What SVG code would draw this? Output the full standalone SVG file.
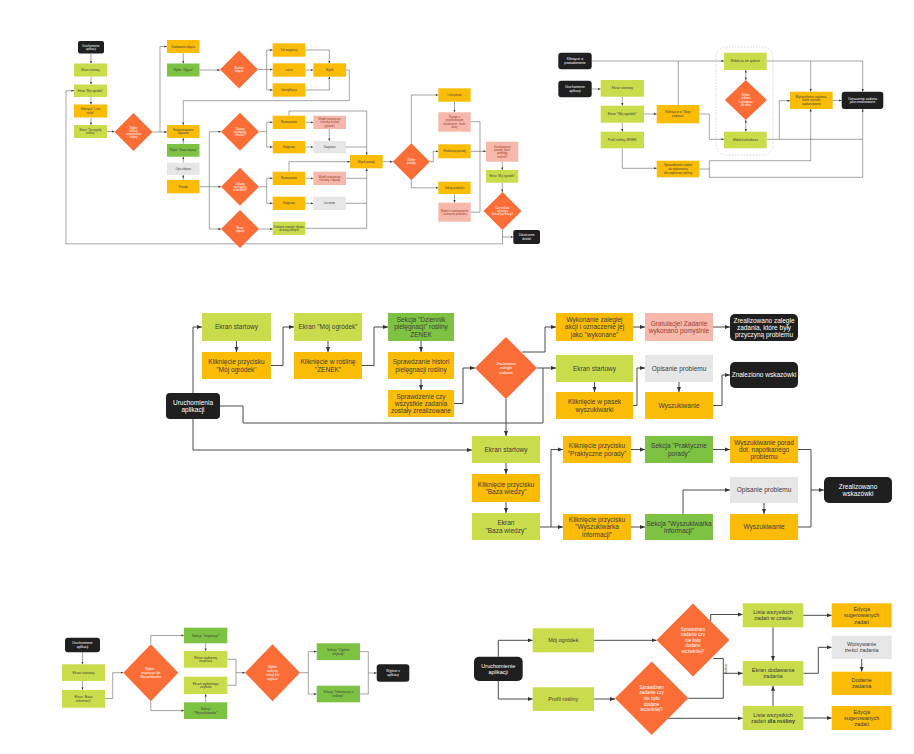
<svg xmlns="http://www.w3.org/2000/svg" width="914" height="754" viewBox="0 0 914 754">
<style>
.l{fill:#c9dc4b}.g{fill:#7dc243}.o{fill:#fbbc07}.p{fill:#f6b8aa}.y{fill:#e6e6e6}.k{fill:#1f1f1f}.d{fill:#fa6d37}
text{font-family:"Liberation Sans",Arial,sans-serif;text-anchor:middle;fill:#3d3d3d}
.w{fill:#fff}.r{fill:#9b3d2d}
.f65{font-size:6.5px}.f55{font-size:5.5px}.f48{font-size:4.6px}.f4{font-size:4px}.f33{font-size:3.3px}.f32{font-size:3.2px}.f28{font-size:2.8px}
.c,.cn,.t,.tn{fill:none;stroke:#4a4a4a}
.c{stroke-width:1;marker-end:url(#A)}.cn{stroke-width:1}
.t{stroke-width:.5;marker-end:url(#S)}.tn{stroke-width:.5}
.dash{fill:none;stroke:#bbb;stroke-width:.6;stroke-dasharray:1.5 1.5}
</style>
<defs>
<marker id="A" viewBox="0 0 10 10" refX="10" refY="5" markerWidth="5" markerHeight="5" markerUnits="userSpaceOnUse" orient="auto"><path d="M0,1L10,5L0,9z" fill="#333"/></marker>
<marker id="S" viewBox="0 0 10 10" refX="10" refY="5" markerWidth="2.6" markerHeight="2.6" markerUnits="userSpaceOnUse" orient="auto-start-reverse"><path d="M0,1L10,5L0,9z" fill="#333"/></marker>
</defs>
<rect width="914" height="754" fill="#fff"/>
<g id="connectors">
<!-- top-left -->
<path class="t" d="M91,53.5V63.5"/><path class="t" d="M91,76.5V84.5"/><path class="t" d="M91,97V104.5"/><path class="t" d="M91,117.5V125"/>
<path class="t" d="M107,131.5H114.5"/>
<path class="t" d="M152.5,132H160V46.5H167"/><path class="t" d="M160,132H167"/>
<path class="t" d="M183.3,53V63.5"/><path class="t" d="M199.5,70H220"/>
<path class="t" d="M258,69.5H266.7V50H272.7"/><path class="t" d="M266.7,69.5H272.7"/><path class="t" d="M266.7,69.5V90H272.7"/>
<path class="t" d="M305.3,50H329.3V63.3"/><path class="t" d="M305.3,70H313.3"/><path class="t" d="M305.3,90H329.3V76.7"/>
<path class="t" d="M346,70H349.3V100.7H183.3V125"/>
<path class="t" d="M183.3,144V138"/><path class="t" d="M183.3,162.7V156.7"/><path class="t" d="M183.3,180V175"/>
<path class="t" d="M199.5,186.7H221"/><path class="t" d="M209.3,186.7V131.7H221"/><path class="t" d="M209.3,186.7V229H221"/>
<path class="t" d="M259,131.7H266.7V122.3H272.7"/><path class="t" d="M266.7,131.7V147H272.7"/>
<path class="t" d="M305.3,122.3H313.3"/><path class="t" d="M305.3,147H313.3"/><path class="t" d="M329.3,129V141"/>
<path class="t" d="M289,115.7V111H366.7V155"/><path class="tn" d="M346,147H366.7"/>
<path class="t" d="M259,186.7H266.7V178.3H272.7"/><path class="t" d="M266.7,186.7V203.3H272.7"/>
<path class="t" d="M305.3,178.3H313.3"/><path class="t" d="M305.3,203.3H313.3"/>
<path class="t" d="M289,171.7V161.7H350"/>
<path class="tn" d="M346,178.3H366.7"/><path class="tn" d="M346,203.3H366.7"/><path class="t" d="M305.3,228.3H366.7V168.3"/>
<path class="t" d="M259,229H272.7"/>
<path class="t" d="M382.7,161.7H392.8"/>
<path class="t" d="M411.3,143.2V95H438.3"/><path class="t" d="M454.5,101.7V112.3"/>
<path class="t" d="M429.8,161.7H433.3V151.3H438.3"/><path class="t" d="M411.3,180.2V187.8H438.3"/>
<path class="t" d="M454.5,194V202.7"/>
<path class="tn" d="M470.7,121.7H480V212.2H470.7"/><path class="t" d="M470.7,151.3H486"/>
<path class="t" d="M502.3,161.7V170"/><path class="t" d="M502.3,182.7V192"/>
<path class="t" d="M502.5,230V243.8H66V90.7H74"/><path class="t" d="M502.5,237H513.3"/>
<!-- top-right -->
<path class="t" d="M591.7,61H724"/><path class="t" d="M591.7,89H600.7"/>
<path class="t" d="M622.3,96.7V105.7"/><path class="t" d="M622.3,122.7V131.7"/>
<path class="t" d="M644,114H656.7"/><path class="tn" d="M678.3,105V61"/>
<path class="t" d="M699.3,114H709.3V139.3H724"/>
<path class="t" d="M622.3,148.3V168.3H656.7"/>
<path class="t" d="M699.3,169H709.3V160.7H810.7V109"/>
<path class="t" d="M709.3,169V177.3H862.7V109"/>
<path class="t" d="M745.8,70V80" style="marker-start:url(#S)"/><path class="t" d="M745.8,120V131.7" style="marker-start:url(#S)"/>
<path class="t" d="M766.7,61H862.7V91.7"/><path class="t" d="M810.7,61V91.7"/>
<path class="t" d="M766.7,139.3H779.3V100.7H790"/><path class="tn" d="M779.3,139.3H862.7"/>
<path class="t" d="M832.7,100.5H841.7"/>
<!-- middle -->
<path class="c" d="M193,393V327H202"/>
<path class="c" d="M236.5,341V352"/>
<path class="c" d="M271,365.5H283V327H294"/>
<path class="c" d="M328,341V352"/>
<path class="c" d="M362,365.5H374V327H388"/>
<path class="c" d="M421,341V352"/><path class="c" d="M421,379V390"/>
<path class="c" d="M454,403.5H463V368H475"/>
<path class="c" d="M522,352H545V327H556"/>
<path class="c" d="M537,368H556"/>
<path class="cn" d="M220,406H243V423H543V368"/>
<path class="c" d="M506,399V436"/>
<path class="c" d="M193,419V450H472"/>
<path class="c" d="M633,327H645"/><path class="c" d="M713,327H730"/>
<path class="c" d="M594.5,382V392"/>
<path class="c" d="M633,405.5H637V368H645"/>
<path class="c" d="M679,382V392"/>
<path class="c" d="M713,405.5H722V375H730"/>
<path class="c" d="M506,463V474"/><path class="c" d="M506,502V513"/>
<path class="c" d="M540,527H551V449.5H563"/><path class="c" d="M551,527H563"/>
<path class="c" d="M631,449.5H645"/><path class="c" d="M713,449.5H730"/>
<path class="c" d="M631,527H645"/>
<path class="c" d="M683,514V490H730"/>
<path class="c" d="M764,503V514"/>
<path class="c" d="M798,449.5H811V490H824"/><path class="cn" d="M798,527H811V490"/>
<!-- bottom-left -->
<path class="t" d="M82.5,652.3V664.3"/><path class="t" d="M82.5,681V690"/>
<path class="t" d="M105,698.5H112.7V672.7H123.3"/>
<path class="t" d="M150.8,644.2V635.5H184"/><path class="t" d="M150.8,701.2V710.6H184"/>
<path class="t" d="M205.7,643.3V651"/><path class="t" d="M205.7,702.3V694"/>
<path class="t" d="M227.3,659.3H236V672.7H245"/><path class="tn" d="M227.3,685.3H236V672.7"/>
<path class="t" d="M300,672.7H308.3V651.6H316.7"/><path class="t" d="M308.3,672.7V694H316.7"/>
<path class="t" d="M360,651.6H368.3V673H376.7"/><path class="tn" d="M360,694H368.3V673"/>
<!-- bottom-right -->
<path class="c" d="M498.3,656.7V640.3H532.7"/><path class="c" d="M498.3,681V699H532.7"/>
<path class="c" d="M594,640.3H656.5"/><path class="c" d="M594,699H615"/>
<path class="c" d="M710.7,621V614.5H742.7"/>
<path class="c" d="M713.5,658.5H723.3V673.3H742.7"/><path class="cn" d="M688.4,698.3H723.3V673.3"/>
<path class="c" d="M668.3,718.3H742.7"/>
<path class="c" d="M773,627.3V661"/><path class="c" d="M773,706V685.7"/>
<path class="c" d="M803.3,615.3H831.7"/>
<path class="c" d="M803.3,673.3H818.3V647.3H831.7"/>
<path class="c" d="M861.7,659V671.7"/>
<path class="c" d="M803.3,718H831.7"/>
<text x="727" y="669" class="f28" transform="rotate(-90 727 669)">dodanie</text>
</g>
<!-- TOP-LEFT -->
<g id="a1"><rect x="78" y="41" width="26" height="12.5" rx="2" class="k"/><text class="f28 w" x="91"><tspan x="91" y="46.7">Uruchomienie</tspan><tspan x="91" y="49.9">aplikacji</tspan></text></g>
<g id="a2"><rect x="74" y="63.5" width="33" height="13" class="l"/><text class="f28" x="90.5" y="71">Ekran startowy</text></g>
<g id="a3"><rect x="74" y="84.5" width="33" height="12.5" class="l"/><text class="f28" x="90.5" y="91.8">Ekran "Mój ogródek"</text></g>
<g id="a4"><rect x="74" y="104.5" width="33" height="13" class="o"/><text class="f28"><tspan x="90.5" y="110.4">Kliknięcie "Lista</tspan><tspan x="90.5" y="113.6">roślin"</tspan></text></g>
<g id="a5"><rect x="74" y="125" width="33" height="13" class="l"/><text class="f28"><tspan x="90.5" y="130.9">Ekran "Szczegóły</tspan><tspan x="90.5" y="134.1">rośliny"</tspan></text></g>
<g id="a6"><polygon points="133.5,113 152.5,132 133.5,151 114.5,132" class="d"/><text class="f28 w"><tspan x="133.5" y="128.5">Wybór</tspan><tspan x="133.5" y="131.5">funkcji</tspan><tspan x="133.5" y="134.5">rozpoznania</tspan><tspan x="133.5" y="137.5">rośliny</tspan></text></g>
<g id="a7"><rect x="167" y="40" width="32.5" height="13" class="o"/><text class="f28" x="183.3" y="47.5">Dodawanie zdjęcia</text></g>
<g id="a8"><rect x="167" y="63.5" width="32.5" height="13" class="g"/><text class="f28" x="183.3" y="71">Wybór "Zdjęcie"</text></g>
<g id="a9"><polygon points="239,50.5 258,69.5 239,88.5 220,69.5" class="d"/><text class="f28 w"><tspan x="239" y="68.9">Analiza</tspan><tspan x="239" y="72.1">zdjęcia</tspan></text></g>
<g id="a10"><rect x="272.7" y="43.3" width="32.6" height="13.4" class="o"/><text class="f28" x="289" y="51">Dni wegetacji</text></g>
<g id="a11"><rect x="272.7" y="63.3" width="32.6" height="13.4" class="o"/><text class="f28" x="289" y="71">Liście</text></g>
<g id="a12"><rect x="272.7" y="83.3" width="32.6" height="13.4" class="o"/><text class="f28" x="289" y="91">Identyfikacja</text></g>
<g id="a13"><rect x="313.3" y="63.3" width="32.7" height="13.4" class="o"/><text class="f28" x="329.6" y="71">Wynik</text></g>
<g id="a14"><rect x="167" y="125" width="32.5" height="13" class="o"/><text class="f28"><tspan x="183.3" y="130.9">Rozpoznawanie</tspan><tspan x="183.3" y="134.1">objawów</tspan></text></g>
<g id="a15"><rect x="167" y="144" width="32.5" height="12.7" class="g"/><text class="f28" x="183.3" y="151.3">Wybór "Nowe objawy"</text></g>
<g id="a16"><rect x="167" y="162.7" width="32.5" height="12.3" class="y"/><text class="f28" x="183.3" y="169.8">Opis objawu</text></g>
<g id="a17"><rect x="167" y="180" width="32.5" height="13.3" class="o"/><text class="f28" x="183.3" y="187.6">Porady</text></g>
<g id="a18"><polygon points="240,112.7 259,131.7 240,150.7 221,131.7" class="d"/><text class="f28 w"><tspan x="240" y="129.7">Objawy</tspan><tspan x="240" y="132.7">występują</tspan><tspan x="240" y="135.7">w bazie?</tspan></text></g>
<g id="a19"><polygon points="240,167.7 259,186.7 240,205.7 221,186.7" class="d"/><text class="f28 w"><tspan x="240" y="184.7">Objawy</tspan><tspan x="240" y="187.7">występują</tspan><tspan x="240" y="190.7">w modelu?</tspan></text></g>
<g id="a20"><polygon points="240,210 259,229 240,248 221,229" class="d"/><text class="f28 w"><tspan x="240" y="228.5">Nowe</tspan><tspan x="240" y="231.5">objawy</tspan></text></g>
<g id="a21"><rect x="272.7" y="115.7" width="32.6" height="13.3" class="o"/><text class="f28" x="289" y="123.3">Rozwiązanie</text></g>
<g id="a22"><rect x="272.7" y="141" width="32.6" height="12.3" class="o"/><text class="f28" x="289" y="148.1">Diagnoza</text></g>
<g id="a23"><rect x="313.3" y="115.7" width="32.7" height="13.3" class="p"/><text class="f28 r"><tspan x="329.6" y="120.1">Model rozpoznaje</tspan><tspan x="329.6" y="123.3">chorobę rośliny</tspan><tspan x="329.6" y="126.5">(prawd.)</tspan></text></g>
<g id="a24"><rect x="313.3" y="141" width="32.7" height="12.3" class="y"/><text class="f28" x="329.6" y="148.1">Diagnoza</text></g>
<g id="a25"><rect x="272.7" y="171.7" width="32.6" height="13.3" class="o"/><text class="f28" x="289" y="179.3">Rozwiązanie</text></g>
<g id="a26"><rect x="272.7" y="196.7" width="32.6" height="13.3" class="o"/><text class="f28" x="289" y="204.3">Diagnoza</text></g>
<g id="a27"><rect x="313.3" y="171.7" width="32.7" height="13.3" class="p"/><text class="f28 r"><tspan x="329.6" y="177.7">Model rozpoznaje</tspan><tspan x="329.6" y="180.9">chorobę i objawy</tspan></text></g>
<g id="a28"><rect x="313.3" y="196.7" width="32.7" height="13.3" class="y"/><text class="f28" x="329.6" y="204.3">Leczenie</text></g>
<g id="a29"><rect x="272.7" y="221.7" width="32.6" height="13.3" class="l"/><text class="f28"><tspan x="289" y="227.7">Dodanie nowego objawu</tspan><tspan x="289" y="230.9">do bazy danych</tspan></text></g>
<g id="a30"><rect x="350" y="155" width="32.7" height="13.3" class="o"/><text class="f28" x="366.3" y="162.7">Wynik porady</text></g>
<g id="a31"><polygon points="411.3,143.2 429.8,161.7 411.3,180.2 392.8,161.7" class="d"/><text class="f28 w"><tspan x="411.3" y="161.1">Wybór</tspan><tspan x="411.3" y="164.3">porady</tspan></text></g>
<g id="a32"><rect x="438.3" y="88.3" width="32.4" height="13.4" class="o"/><text class="f28" x="454.5" y="96">Lista porad</text></g>
<g id="a33"><rect x="438.3" y="112.3" width="32.4" height="19.4" class="p"/><text class="f28 r"><tspan x="454.5" y="118.2">Porada z</tspan><tspan x="454.5" y="121.4">przykładowym</tspan><tspan x="454.5" y="124.6">działaniem - kroki</tspan><tspan x="454.5" y="127.8">dalej</tspan></text></g>
<g id="a34"><rect x="438.3" y="144.3" width="32.4" height="14" class="o"/><text class="f28" x="454.5" y="152.3">Realizacja porady</text></g>
<g id="a35"><rect x="438.3" y="181.7" width="32.4" height="12.3" class="o"/><text class="f28" x="454.5" y="188.8">Zakup produktu</text></g>
<g id="a36"><rect x="438.3" y="202.7" width="32.4" height="19" class="p"/><text class="f28 r"><tspan x="454.5" y="211.6">Model z rozwiązaniem</tspan><tspan x="454.5" y="214.8">i zakupem produktu</tspan></text></g>
<g id="a37"><rect x="486" y="141.7" width="32.3" height="20" class="p"/><text class="f28 r"><tspan x="502.2" y="147.9">Zrealizowano</tspan><tspan x="502.2" y="151.1">porady, które</tspan><tspan x="502.2" y="154.3">pomogły</tspan><tspan x="502.2" y="157.5">roślinie?</tspan></text></g>
<g id="a38"><rect x="486" y="170" width="32.3" height="12.7" class="l"/><text class="f28" x="502.2" y="177.3">Ekran "Mój ogródek"</text></g>
<g id="a39"><polygon points="502.5,192 521.5,211 502.5,230 483.5,211" class="d"/><text class="f28 w"><tspan x="502.5" y="208.8">Czy roślina</tspan><tspan x="502.5" y="211.8">wymaga</tspan><tspan x="502.5" y="214.8">dalszej pomocy?</tspan></text></g>
<g id="a40"><rect x="513.3" y="230" width="26.7" height="14" rx="2" class="k"/><text class="f28 w"><tspan x="526.7" y="236.4">Zakończenie</tspan><tspan x="526.7" y="239.6">działań</tspan></text></g>
<!-- TOP-RIGHT -->
<g id="b8"><rect x="716" y="47" width="57" height="108" rx="10" class="dash"/></g>
<g id="b1"><rect x="558.3" y="52.7" width="33.4" height="16.6" rx="3" class="k"/><text class="f32 w"><tspan x="575" y="60.25">Kliknięcie w</tspan><tspan x="575" y="63.95">powiadomienie</tspan></text></g>
<g id="b2"><rect x="558.3" y="80.7" width="33.4" height="16.6" rx="3" class="k"/><text class="f32 w"><tspan x="575" y="88.25">Uruchomienie</tspan><tspan x="575" y="91.95">aplikacji</tspan></text></g>
<g id="b3"><rect x="600.7" y="80" width="43.3" height="16.7" class="l"/><text class="f32" x="622.3" y="89.4">Ekran startowy</text></g>
<g id="b4"><rect x="600.7" y="105.7" width="43.3" height="17" class="l"/><text class="f32" x="622.3" y="115.3">Ekran "Mój ogródek"</text></g>
<g id="b5"><rect x="600.7" y="131.7" width="43.3" height="16.6" class="l"/><text class="f32" x="622.3" y="141.1">Profil rośliny ZENEK</text></g>
<g id="b6"><rect x="656.7" y="105" width="42.6" height="18.3" class="o"/><text class="f32"><tspan x="678" y="113.4">Kliknięcie w "Moje</tspan><tspan x="678" y="117.1">zadania"</tspan></text></g>
<g id="b7"><rect x="656.7" y="160.7" width="42.6" height="16.6" class="o"/><text class="f32"><tspan x="678" y="166.4">Sprawdzenie zadań</tspan><tspan x="678" y="170.1">do wykonania</tspan><tspan x="678" y="173.8">dla wybranej rośliny</tspan></text></g>
<g id="b9"><rect x="724" y="52.7" width="42.7" height="17.3" class="l"/><text class="f32" x="745.3" y="62.4">Widok na ten tydzień</text></g>
<g id="b10"><polygon points="745.8,80 766.8,100 745.8,120 724.8,100" class="d"/><text class="f28 w"><tspan x="745.8" y="96">Wybór</tspan><tspan x="745.8" y="99.3">zadania</tspan><tspan x="745.8" y="102.6">kalendarza</tspan><tspan x="745.8" y="105.9">dla dnia</tspan></text></g>
<g id="b11"><rect x="724" y="131.7" width="42.7" height="16.6" class="l"/><text class="f32" x="745.3" y="141.1">Widok kalendarza</text></g>
<g id="b12"><rect x="790" y="91.7" width="42.7" height="17.3" class="o"/><text class="f32"><tspan x="811.3" y="97.7">Wyświetlenie zadania,</tspan><tspan x="811.3" y="101.4">które zostało</tspan><tspan x="811.3" y="105.1">zaplanowane</tspan></text></g>
<g id="b13"><rect x="841.7" y="91.7" width="41.6" height="17.3" rx="3" class="k"/><text class="f32 w"><tspan x="862.5" y="99.5">Oznaczenie zadania</tspan><tspan x="862.5" y="103.2">jako zrealizowane</tspan></text></g>
<!-- MIDDLE -->
<g id="m1"><rect x="202" y="313" width="69" height="28" class="l"/><text class="f65" x="236.5" y="329.3">Ekran startowy</text></g>
<g id="m2"><rect x="202" y="352" width="69" height="27" class="o"/><text class="f65"><tspan x="236.5" y="364.2">Kliknięcie przycisku</tspan><tspan x="236.5" y="371.5">"Mój ogródek"</tspan></text></g>
<g id="m3"><rect x="294" y="313" width="68" height="28" class="l"/><text class="f65" x="328" y="329.3">Ekran "Mój ogródek"</text></g>
<g id="m4"><rect x="294" y="352" width="68" height="27" class="o"/><text class="f65"><tspan x="328" y="364.2">Kliknięcie w roślinę</tspan><tspan x="328" y="371.5">"ZENEK"</tspan></text></g>
<g id="m5"><rect x="388" y="313" width="66" height="28" class="g"/><text class="f65"><tspan x="421" y="322">Sekcja "Dziennik</tspan><tspan x="421" y="329.3">pielęgnacji" rośliny</tspan><tspan x="421" y="336.6">ZENEK</tspan></text></g>
<g id="m6"><rect x="388" y="352" width="66" height="27" class="o"/><text class="f65"><tspan x="421" y="364.2">Sprawdzanie histori</tspan><tspan x="421" y="371.5">pielęgnacji rośliny</tspan></text></g>
<g id="m7"><rect x="388" y="390" width="66" height="27" class="o"/><text class="f65"><tspan x="421" y="398.5">Sprawdzenie czy</tspan><tspan x="421" y="405.8">wszystkie zadania</tspan><tspan x="421" y="413.1">zostały zrealizowane</tspan></text></g>
<g id="m8"><rect x="166" y="393" width="54" height="26" rx="4" class="k"/><text class="f65 w"><tspan x="193" y="404.7">Uruchomienia</tspan><tspan x="193" y="412">aplikacji</tspan></text></g>
<g id="m9"><polygon points="506,337 537,368 506,399 475,368" class="d"/><text class="f4 w"><tspan x="506" y="364.8">Znaleziono</tspan><tspan x="506" y="369.4">zaległe</tspan><tspan x="506" y="374">zadanie</tspan></text></g>
<g id="m10"><rect x="556" y="313" width="77" height="28" class="o"/><text class="f65"><tspan x="594.5" y="322">Wykonanie zaległej</tspan><tspan x="594.5" y="329.3">akcji i oznaczenie jej</tspan><tspan x="594.5" y="336.6">jako "wykonane"</tspan></text></g>
<g id="m11"><rect x="556" y="355" width="77" height="27" class="l"/><text class="f65" x="594.5" y="370.8">Ekran startowy</text></g>
<g id="m12"><rect x="556" y="392" width="77" height="27" class="o"/><text class="f65"><tspan x="594.5" y="404.2">Kliknięcie w pasek</tspan><tspan x="594.5" y="411.5">wyszukiwarki</tspan></text></g>
<g id="m13"><rect x="645" y="313" width="68" height="28" class="p"/><text class="f65 r"><tspan x="679" y="325.7">Gratulacje! Zadanie</tspan><tspan x="679" y="333">wykonano pomyślnie</tspan></text></g>
<g id="m14"><rect x="730" y="314" width="68" height="27" rx="5" class="k"/><text class="f65 w"><tspan x="764" y="322.5">Zrealizowano zaległe</tspan><tspan x="764" y="329.8">zadania, które były</tspan><tspan x="764" y="337.1">przyczyną problemu</tspan></text></g>
<g id="m15"><rect x="645" y="355" width="68" height="27" class="y"/><text class="f65" x="679" y="370.8">Opisanie problemu</text></g>
<g id="m16"><rect x="645" y="392" width="68" height="27" class="o"/><text class="f65" x="679" y="407.8">Wyszukiwanie</text></g>
<g id="m17"><rect x="730" y="362" width="68" height="26" rx="5" class="k"/><text class="f65 w" x="764" y="377.3">Znaleziono wskazówki</text></g>
<g id="m18"><rect x="472" y="436" width="68" height="27" class="l"/><text class="f65" x="506" y="451.8">Ekran startowy</text></g>
<g id="m19"><rect x="472" y="474" width="68" height="28" class="o"/><text class="f65"><tspan x="506" y="486.7">Kliknięcie przycisku</tspan><tspan x="506" y="494">"Baza wiedzy"</tspan></text></g>
<g id="m20"><rect x="472" y="513" width="68" height="27" class="l"/><text class="f65"><tspan x="506" y="525.2">Ekran</tspan><tspan x="506" y="532.5">"Baza wiedzy"</tspan></text></g>
<g id="m21"><rect x="563" y="436" width="68" height="27" class="o"/><text class="f65"><tspan x="597" y="448.2">Kliknięcie przycisku</tspan><tspan x="597" y="455.5">"Praktyczne porady"</tspan></text></g>
<g id="m22"><rect x="645" y="436" width="68" height="27" class="g"/><text class="f65"><tspan x="679" y="448.2">Sekcja "Praktyczne</tspan><tspan x="679" y="455.5">porady"</tspan></text></g>
<g id="m23"><rect x="730" y="436" width="68" height="27" class="o"/><text class="f65"><tspan x="764" y="444.5">Wyszukiwanie porad</tspan><tspan x="764" y="451.8">dot. napotkanego</tspan><tspan x="764" y="459.1">problemu</tspan></text></g>
<g id="m24"><rect x="563" y="514" width="68" height="26" class="o"/><text class="f65"><tspan x="597" y="522">Kliknięcie przycisku</tspan><tspan x="597" y="529.3">"Wyszukiwarka</tspan><tspan x="597" y="536.6">informacji"</tspan></text></g>
<g id="m25"><rect x="645" y="514" width="68" height="26" class="g"/><text class="f65"><tspan x="679" y="525.7">Sekcja "Wyszukiwarka</tspan><tspan x="679" y="533">informacji"</tspan></text></g>
<g id="m26"><rect x="730" y="477" width="68" height="26" class="y"/><text class="f65" x="764" y="492.3">Opisanie problemu</text></g>
<g id="m27"><rect x="730" y="514" width="68" height="26" class="o"/><text class="f65" x="764" y="529.3">Wyszukiwanie</text></g>
<g id="m28"><rect x="824" y="477" width="68" height="26" rx="5" class="k"/><text class="f65 w"><tspan x="858" y="488.7">Zrealizowano</tspan><tspan x="858" y="496">wskazówki</tspan></text></g>
<!-- BOTTOM-LEFT -->
<g id="c1"><rect x="65" y="637.7" width="35" height="14.6" rx="3" class="k"/><text class="f33 w"><tspan x="82.5" y="644.2">Uruchomienie</tspan><tspan x="82.5" y="648.1">aplikacji</tspan></text></g>
<g id="c2"><rect x="62" y="664.3" width="43" height="16.7" class="l"/><text class="f33" x="83.5" y="673.8">Ekran startowy</text></g>
<g id="c3"><rect x="62" y="690" width="43" height="17.7" class="l"/><text class="f33"><tspan x="83.5" y="698">Ekran "Baza</tspan><tspan x="83.5" y="701.9">informacji"</tspan></text></g>
<g id="c4"><polygon points="150.8,644.2 178.3,672.7 150.8,701.2 123.3,672.7" class="d"/><text class="f33 w"><tspan x="150.8" y="670">Wybór -</tspan><tspan x="150.8" y="673.9">inspiracje lub</tspan><tspan x="150.8" y="677.8">Wyszukiwarka</tspan></text></g>
<g id="c5"><rect x="184" y="627.7" width="43.3" height="15.6" class="g"/><text class="f33" x="205.7" y="636.7">Sekcja "Inspiracje"</text></g>
<g id="c6"><rect x="184" y="651" width="43.3" height="16.7" class="l"/><text class="f33"><tspan x="205.7" y="658.5">Ekran wybranej</tspan><tspan x="205.7" y="662.4">inspiracji</tspan></text></g>
<g id="c7"><rect x="184" y="676.7" width="43.3" height="17.3" class="l"/><text class="f33"><tspan x="205.7" y="684.5">Ekran wybranego</tspan><tspan x="205.7" y="688.4">artykułu</tspan></text></g>
<g id="c8"><rect x="184" y="702.3" width="43.3" height="16.7" class="g"/><text class="f33"><tspan x="205.7" y="709.8">Sekcja</tspan><tspan x="205.7" y="713.7">"Wyszukiwarka"</tspan></text></g>
<g id="c9"><polygon points="272.5,644.2 300,672.7 272.5,701.2 245,672.7" class="d"/><text class="f33 w"><tspan x="272.5" y="668">Wybór</tspan><tspan x="272.5" y="671.9">kolejnej</tspan><tspan x="272.5" y="675.8">sekcji lub</tspan><tspan x="272.5" y="679.7">wyjście</tspan></text></g>
<g id="c10"><rect x="316.7" y="643.3" width="43.3" height="16.7" class="g"/><text class="f33"><tspan x="338.3" y="650.8">Sekcja "Ogólne</tspan><tspan x="338.3" y="654.7">artykuły"</tspan></text></g>
<g id="c11"><rect x="316.7" y="685.7" width="43.3" height="16.6" class="g"/><text class="f33"><tspan x="338.3" y="693.2">Sekcja "Informacje o</tspan><tspan x="338.3" y="697.1">roślinie"</tspan></text></g>
<g id="c12"><rect x="376.7" y="664.3" width="32.6" height="17.4" rx="3" class="k"/><text class="f33 w"><tspan x="393" y="672.2">Wyjście z</tspan><tspan x="393" y="676.1">aplikacji</tspan></text></g>
<!-- BOTTOM-RIGHT -->
<g id="d1"><rect x="474" y="656.7" width="48.7" height="24.3" rx="5" class="k"/><text class="f55 w"><tspan x="498.3" y="667.5">Uruchomienie</tspan><tspan x="498.3" y="673.9">aplikacji</tspan></text></g>
<g id="d2"><rect x="532.7" y="628.3" width="61.3" height="24" class="l"/><text class="f55" x="563.3" y="642.2">Mój ogródek</text></g>
<g id="d3"><rect x="532.7" y="687.3" width="61.3" height="23.7" class="l"/><text class="f55" x="563.3" y="701">Profil rośliny</text></g>
<g id="d4"><polygon points="693,603.5 729.5,640 693,676.5 656.5,640" class="d"/><text class="f48 w"><tspan x="693" y="630.5">Sprawdzam</tspan><tspan x="693" y="636.1">zadanie czy</tspan><tspan x="693" y="641.7">nie było</tspan><tspan x="693" y="647.3">dodane</tspan><tspan x="693" y="652.9">wcześniej?</tspan></text></g>
<g id="d5"><polygon points="651.7,661.6 688.4,698.3 651.7,735 615,698.3" class="d"/><text class="f48 w"><tspan x="651.7" y="688.8">Sprawdzam</tspan><tspan x="651.7" y="694.4">zadanie czy</tspan><tspan x="651.7" y="700">nie było</tspan><tspan x="651.7" y="705.6">dodane</tspan><tspan x="651.7" y="711.2">wcześniej?</tspan></text></g>
<g id="d6"><rect x="742.7" y="603.3" width="60.6" height="24" class="l"/><text class="f55"><tspan x="773" y="614">Lista wszystkich</tspan><tspan x="773" y="620.4">zadań w czasie</tspan></text></g>
<g id="d7"><rect x="742.7" y="661" width="60.6" height="24.7" class="l"/><text class="f55"><tspan x="773" y="672">Ekran dodawania</tspan><tspan x="773" y="678.4">zadania</tspan></text></g>
<g id="d8"><rect x="742.7" y="706" width="60.6" height="24" class="l"/><text class="f55"><tspan x="773" y="716.7">Lista wszystkich</tspan><tspan x="773" y="723.1">zadań <tspan font-weight="bold">dla rośliny</tspan></tspan></text></g>
<g id="d9"><rect x="831.7" y="603.3" width="60" height="24" class="o"/><text class="f55"><tspan x="861.7" y="610.8">Edycja</tspan><tspan x="861.7" y="617.2">sugerowanych</tspan><tspan x="861.7" y="623.6">zadań</tspan></text></g>
<g id="d10"><rect x="831.7" y="635.7" width="60" height="23.3" class="y"/><text class="f55"><tspan x="861.7" y="646">Wpisywanie</tspan><tspan x="861.7" y="652.4">treści zadania</tspan></text></g>
<g id="d11"><rect x="831.7" y="671.7" width="60" height="23.3" class="o"/><text class="f55"><tspan x="861.7" y="682">Dodanie</tspan><tspan x="861.7" y="688.4">zadania</tspan></text></g>
<g id="d12"><rect x="831.7" y="706" width="60" height="24" class="o"/><text class="f55"><tspan x="861.7" y="713.5">Edycja</tspan><tspan x="861.7" y="719.9">sugerowanych</tspan><tspan x="861.7" y="726.3">zadań</tspan></text></g>
</svg>
